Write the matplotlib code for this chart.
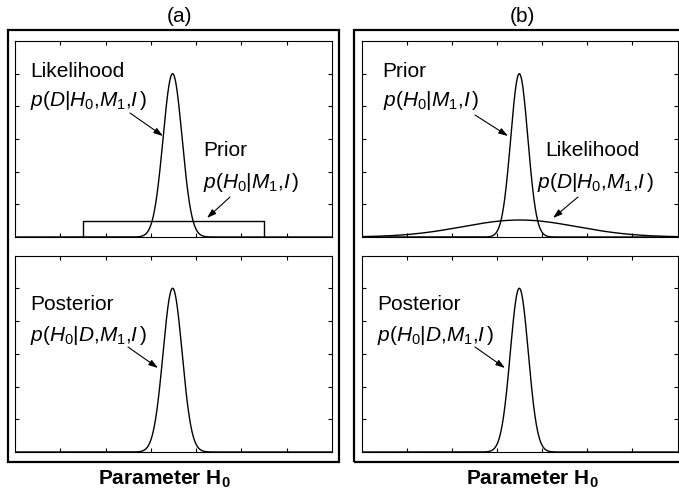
import numpy as np
import matplotlib
matplotlib.use('Agg')
from matplotlib import pyplot as plt
from matplotlib.patches import Rectangle, FancyArrowPatch

plt.rcParams['font.family'] = ['Liberation Sans', 'DejaVu Sans']
plt.rcParams['mathtext.fontset'] = 'custom'
plt.rcParams['mathtext.rm'] = 'Liberation Sans'
plt.rcParams['mathtext.it'] = 'Liberation Sans:italic'
plt.rcParams['mathtext.bf'] = 'Liberation Sans:bold'

W, H = 679, 499
FS = 15

# parameter axis and plot ranges
x_limits = [0, 7]
y_limits = [0, 6]
x_ticks = [1, 2, 3, 4, 5, 6]
y_ticks = [1, 2, 3, 4, 5]

# (a) narrow likelihood, flat prior
a_like_center, a_like_sigma, a_like_peak = 3.48, 0.21, 5.0
a_prior_lo, a_prior_hi, a_prior_height = 1.5, 5.5, 0.5
a_post_center, a_post_sigma, a_post_peak = 3.48, 0.21, 5.0

# (b) narrow prior, broad likelihood
b_prior_center, b_prior_sigma, b_prior_peak = 3.49, 0.19, 5.0
b_like_center, b_like_sigma, b_like_peak = 3.5, 1.27, 0.52
b_post_center, b_post_sigma, b_post_peak = 3.49, 0.20, 5.0

LIKE = r'$p(D|H_0{,}M_1{,}I\,)$'
PRIOR = r'$p(H_0|M_1{,}I\,)$'
POST = r'$p(H_0|D{,}M_1{,}I\,)$'


def gauss(x, center, sigma, peak):
    return peak * np.exp(-0.5 * ((x - center) / sigma) ** 2)


def frac(x, y):
    # pixel position (from top left) -> figure fraction
    return x / W, 1 - y / H


def add_axes(fig, left, top, right, bottom):
    ax = fig.add_axes([left / W, 1 - bottom / H, (right - left) / W, (bottom - top) / H])
    ax.set_xlim(x_limits)
    ax.set_ylim(y_limits)
    ax.set_xticks(x_ticks)
    ax.set_yticks(y_ticks)
    ax.tick_params(direction='in', length=3, width=0.8, top=True, right=True,
                   labelbottom=False, labelleft=False)
    for s in ax.spines.values():
        s.set_linewidth(0.8)
    return ax


def label(fig, x, y, s, **kw):
    fig.text(*frac(x, y), s, fontsize=FS, ha='left', va='baseline', **kw)


def arrow(fig, x0, y0, x1, y1):
    fig.add_artist(FancyArrowPatch(
        frac(x0, y0), frac(x1, y1), transform=fig.transFigure,
        arrowstyle='-|>,head_length=0.55,head_width=0.18', mutation_scale=10,
        lw=0.8, color='black', shrinkA=0, shrinkB=0))


fig = plt.figure(figsize=(W / 100, H / 100), dpi=100)

# outer frames
for l, r in [(8, 339), (354, 690)]:
    fig.add_artist(Rectangle(frac(l, 462), (r - l) / W, 432 / H, transform=fig.transFigure,
                             fill=False, lw=1.6, ec='black'))

x = np.linspace(x_limits[0], x_limits[1], 1400)
lw = 1.0

# panel (a)
ax = add_axes(fig, 15, 41, 332, 237)
ax.plot(x, gauss(x, a_like_center, a_like_sigma, a_like_peak), color='black', lw=lw)
ax.plot([a_prior_lo, a_prior_lo, a_prior_hi, a_prior_hi], [0, a_prior_height, a_prior_height, 0],
        color='black', lw=lw)
ax = add_axes(fig, 15, 255.5, 332, 452)
ax.plot(x, gauss(x, a_post_center, a_post_sigma, a_post_peak), color='black', lw=lw)

# panel (b)
ax = add_axes(fig, 362, 41, 677.5, 237)
ax.plot(x, gauss(x, b_prior_center, b_prior_sigma, b_prior_peak), color='black', lw=lw)
ax.plot(x, gauss(x, b_like_center, b_like_sigma, b_like_peak), color='black', lw=lw)
ax = add_axes(fig, 362, 255.5, 677.5, 452)
ax.plot(x, gauss(x, b_post_center, b_post_sigma, b_post_peak), color='black', lw=lw)

# titles
fig.text(*frac(179, 22), '(a)', fontsize=FS, ha='center', va='baseline')
fig.text(*frac(522, 22), '(b)', fontsize=FS, ha='center', va='baseline')
for cx in [164, 532]:
    fig.text(*frac(cx, 485), r'Parameter $\mathbf{H_0}$', fontsize=FS, fontweight='bold',
             ha='center', va='baseline')

# annotations (a)
label(fig, 30, 77, 'Likelihood')
label(fig, 30, 106, LIKE)
arrow(fig, 130, 113, 163, 136)
label(fig, 203, 156, 'Prior')
label(fig, 203, 188, PRIOR)
arrow(fig, 230, 197, 207, 218)
label(fig, 30, 310, 'Posterior')
label(fig, 30, 341, POST)
arrow(fig, 128, 347, 158, 368)

# annotations (b)
label(fig, 382, 77, 'Prior')
label(fig, 383, 106, PRIOR)
arrow(fig, 475, 115, 508, 136)
label(fig, 545, 156, 'Likelihood')
label(fig, 537, 188, LIKE)
arrow(fig, 578, 197, 553, 218)
label(fig, 377, 310, 'Posterior')
label(fig, 377, 341, POST)
arrow(fig, 475, 347, 505, 368)

fig.savefig('out.png', dpi=100)
